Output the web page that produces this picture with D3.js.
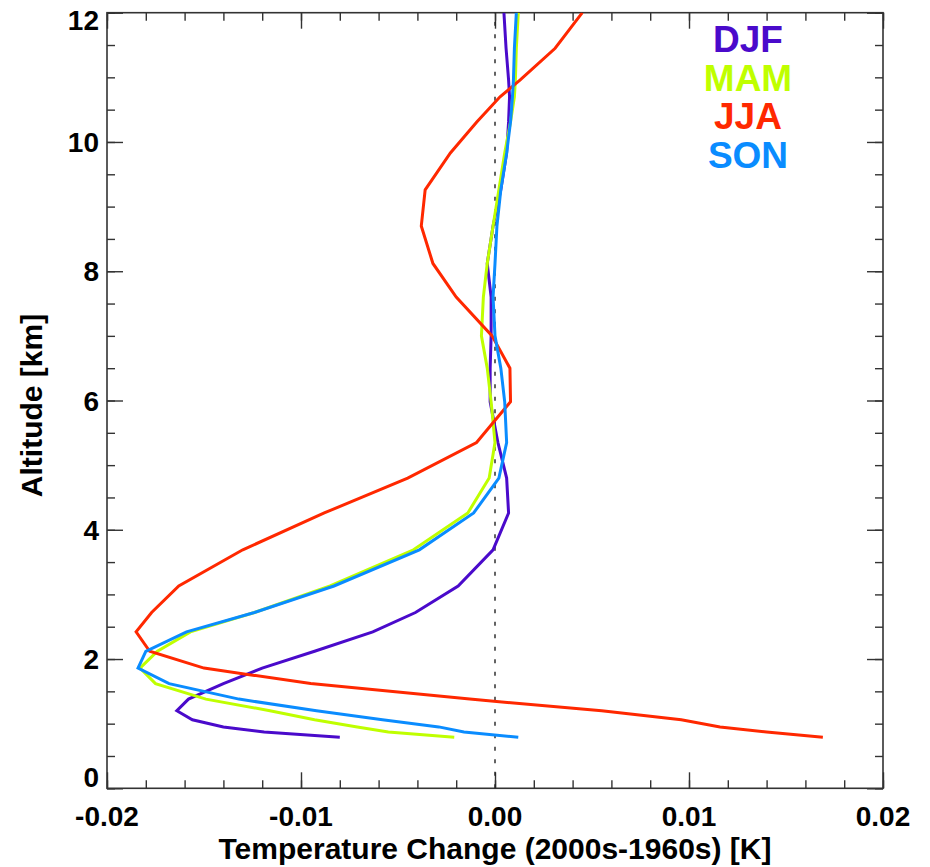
<!DOCTYPE html>
<html>
<head>
<meta charset="utf-8">
<script src="https://cdn.jsdelivr.net/npm/d3@7"></script>
<style>
  html, body { margin: 0; padding: 0; background: #fff; }
  svg { display: block; }
  text { font-family: "Liberation Sans", Arial, Helvetica, sans-serif; font-weight: bold; }
</style>
</head>
<body>
<svg id="chart" width="930" height="867"></svg>
<script>
// Model levels (km) shared by all seasonal profiles
const altitudeKm = [0.79, 0.87, 0.95, 1.06, 1.2, 1.38, 1.62, 1.86, 2.12, 2.42, 2.72, 3.13, 3.69, 4.26, 4.8, 5.35, 5.98, 6.5, 7.0, 7.6, 8.12, 8.7, 9.26, 9.83, 10.31, 10.7, 10.96, 11.45, 12.0];

// Temperature change (2000s minus 1960s), K, per season
const djf = [-0.0080, -0.0119, -0.0140, -0.0156, -0.0164, -0.0158, -0.0140, -0.0120, -0.0093, -0.0063, -0.0041, -0.0019, -0.0001, 0.0007, 0.0006, 0.00015, -0.00025, -0.00025, -0.0002, -0.0002, -0.0004, -0.0001, 0.0003, 0.0006, 0.0007, 0.00075, 0.0007, 0.00057, 0.00046];
const mam = [-0.0021, -0.0055, -0.0071, -0.0093, -0.0116, -0.0149, -0.0175, -0.0183, -0.0174, -0.0157, -0.0124, -0.0085, -0.0042, -0.0014, -0.0003, 0.0000, -0.0002, -0.0004, -0.0007, -0.0006, -0.0004, -0.0001, 0.0002, 0.0005, 0.0008, 0.0010, 0.00105, 0.0011, 0.0012];
const jja = [0.0169, 0.0140, 0.0116, 0.0096, 0.0055, -0.0013, -0.0095, -0.0150, -0.0178, -0.0185, -0.0177, -0.0163, -0.0130, -0.0088, -0.0045, -0.00095, 0.0008, 0.00077, -0.00015, -0.0020, -0.0032, -0.0038, -0.0036, -0.0023, -0.00094, 0.00026, 0.0013, 0.0031, 0.0045];
const son = [0.0012, -0.0016, -0.0029, -0.0058, -0.0092, -0.0132, -0.0168, -0.0184, -0.0180, -0.0159, -0.0124, -0.0083, -0.0039, -0.0011, 0.0002, 0.0006, 0.0005, 0.0003, 0.0000, -0.0001, 0.0000, 0.0001, 0.0003, 0.0006, 0.0008, 0.0009, 0.00095, 0.0010, 0.0011];

const seasonNames = ["DJF", "MAM", "JJA", "SON"];
const seasonValues = [djf, mam, jja, son];
const seasonColors = ["#4a0acb", "#bfff00", "#ff2800", "#0a8cff"];

// Axis ticks
const xTickValues = [-0.02, -0.01, 0.00, 0.01, 0.02];
const xTickLabels = ["-0.02", "-0.01", "0.00", "0.01", "0.02"];
const yTickValues = [0, 2, 4, 6, 8, 10, 12];
const yTickLabels = ["0", "2", "4", "6", "8", "10", "12"];

const plotLeft = 107, plotRight = 883, plotTop = 12.7, plotBottom = 788.3;
const svg = d3.select("#chart");

const x = d3.scaleLinear().domain([-0.02, 0.02]).range([plotLeft, plotRight]);
const y = d3.scaleLinear().domain([0, 12]).range([plotBottom, plotTop]);

const axisColor = "#333";
const xMinor = d3.range(-0.02, 0.02001, 0.002).map(v => +v.toFixed(4));
const yMinor = d3.range(0, 12.001, 0.5).map(v => +v.toFixed(2));

function styleAxis(g) {
  g.select(".domain").remove();
  g.selectAll("line").attr("stroke", axisColor).attr("stroke-width", 1.4);
  g.selectAll("text").remove();
}

// Minor and major inward ticks on all four sides
svg.append("g").attr("transform", `translate(0,${plotBottom})`)
  .call(d3.axisBottom(x).tickValues(xMinor).tickSize(-8)).call(styleAxis);
svg.append("g").attr("transform", `translate(0,${plotBottom})`)
  .call(d3.axisBottom(x).tickValues(xTickValues).tickSize(-16)).call(styleAxis);
svg.append("g").attr("transform", `translate(0,${plotTop})`)
  .call(d3.axisTop(x).tickValues(xMinor).tickSize(-8)).call(styleAxis);
svg.append("g").attr("transform", `translate(0,${plotTop})`)
  .call(d3.axisTop(x).tickValues(xTickValues).tickSize(-16)).call(styleAxis);
svg.append("g").attr("transform", `translate(${plotLeft},0)`)
  .call(d3.axisLeft(y).tickValues(yMinor).tickSize(-8)).call(styleAxis);
svg.append("g").attr("transform", `translate(${plotLeft},0)`)
  .call(d3.axisLeft(y).tickValues(yTickValues).tickSize(-16)).call(styleAxis);
svg.append("g").attr("transform", `translate(${plotRight},0)`)
  .call(d3.axisRight(y).tickValues(yMinor).tickSize(-8)).call(styleAxis);
svg.append("g").attr("transform", `translate(${plotRight},0)`)
  .call(d3.axisRight(y).tickValues(yTickValues).tickSize(-16)).call(styleAxis);

// Plot frame
svg.append("rect")
  .attr("x", plotLeft).attr("y", plotTop)
  .attr("width", plotRight - plotLeft).attr("height", plotBottom - plotTop)
  .attr("fill", "none").attr("stroke", axisColor).attr("stroke-width", 1.6);

// Tick labels
svg.append("g").selectAll("text").data(xTickValues).join("text")
  .attr("x", d => x(d)).attr("y", 826)
  .attr("text-anchor", "middle").attr("font-size", 28).attr("fill", "#000")
  .text((d, i) => xTickLabels[i]);

svg.append("g").selectAll("text").data(yTickValues).join("text")
  .attr("x", 99)
  .attr("y", d => Math.min(Math.max(y(d) + 10, 30), 787))
  .attr("text-anchor", "end").attr("font-size", 28).attr("fill", "#000")
  .text((d, i) => yTickLabels[i]);

// Axis titles
svg.append("text")
  .attr("x", (plotLeft + plotRight) / 2).attr("y", 859)
  .attr("text-anchor", "middle").attr("font-size", 30).attr("fill", "#000")
  .text("Temperature Change (2000s-1960s) [K]");

svg.append("text")
  .attr("transform", `translate(42,${(plotTop + plotBottom) / 2 + 5}) rotate(-90)`)
  .attr("text-anchor", "middle").attr("font-size", 30).attr("fill", "#000")
  .text("Altitude [km]");

// Zero reference line
svg.append("line")
  .attr("x1", x(0)).attr("x2", x(0))
  .attr("y1", y(0)).attr("y2", y(12))
  .attr("stroke", "#222").attr("stroke-width", 1.4)
  .attr("stroke-dasharray", "4,8.5");

// Profiles
svg.append("clipPath").attr("id", "plotClip")
  .append("rect").attr("x", plotLeft).attr("y", plotTop)
  .attr("width", plotRight - plotLeft).attr("height", plotBottom - plotTop);

const line = d3.line()
  .x(d => x(d[0]))
  .y(d => y(d[1]));

const profiles = svg.append("g").attr("clip-path", "url(#plotClip)");
seasonValues.forEach((vals, i) => {
  profiles.append("path")
    .datum(vals.map((v, k) => [v, altitudeKm[k]]))
    .attr("d", line)
    .attr("fill", "none")
    .attr("stroke", seasonColors[i])
    .attr("stroke-width", 3)
    .attr("stroke-linejoin", "miter");
});

// Season legend
svg.append("g").selectAll("text").data(seasonNames).join("text")
  .attr("x", 748)
  .attr("y", (d, i) => 52 + i * 38.5)
  .attr("text-anchor", "middle").attr("font-size", 37)
  .attr("fill", (d, i) => seasonColors[i])
  .text(d => d);
</script>
</body>
</html>
